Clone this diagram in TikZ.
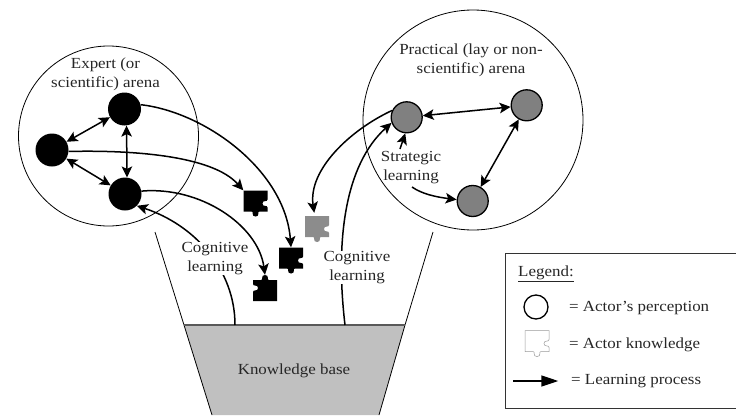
\documentclass[tikz,border=0pt]{standalone}
\usepackage{fontspec}
\setmainfont[FakeStretch=1.1]{Liberation Serif}
\usetikzlibrary{arrows.meta}
\definecolor{basegrey}{HTML}{C0C0C0}
\definecolor{actorgrey}{HTML}{808080}
\definecolor{pieceg}{HTML}{8C8C8C}
\tikzset{
  x=1pt,y=-1pt,
  arena/.style={circle,draw,line width=0.8pt,inner sep=0pt,minimum size=#1},
  expertnode/.style={circle,fill=black,inner sep=0pt,minimum size=33pt},
  laynode/.style={circle,draw=black,line width=1.3pt,fill=actorgrey,inner sep=0pt,minimum size=31pt},
  piecebox/.style={inner sep=0pt,minimum width=24pt,minimum height=26pt},
  lab/.style={font=\fontsize{15.4}{19}\selectfont,align=center,inner sep=0pt,text=black!85},
  labw/.style={lab,fill=white,inner sep=0pt},
  leglab/.style={font=\fontsize{15.4}{19}\selectfont,anchor=west,inner sep=0pt,text=black!85},
  flow/.style={line width=1.5pt,-{Stealth[length=11pt,width=10.5pt,inset=2.5pt]}},
  dflow/.style={line width=1.5pt,{Stealth[length=11pt,width=10.5pt,inset=2.5pt]}-{Stealth[length=11pt,width=10.5pt,inset=2.5pt]}},
  funnel/.style={line width=0.8pt},
  puzzle/.pic={
    \path[pic actions] (-12,-13)--(12,-13)--(12,-4)
      .. controls (12,-1) and (7,-4) .. (7,0)
      .. controls (7,4) and (12,1) .. (12,4)
      --(12,8)--(4,8)
      .. controls (1,8) and (5,13) .. (0,13)
      .. controls (-5,13) and (-1,8) .. (-4,8)
      --(-12,8)--cycle;
  }
}
\begin{document}
\begin{tikzpicture}
\useasboundingbox (0,0) rectangle (736,415);
% knowledge base
\fill[basegrey] (184,325)--(405,325)--(379,415)--(212,415)--cycle;
\draw[funnel] (155,232)--(184,325)--(212,415);
\draw[funnel] (433,232)--(405,325)--(379,415);
\draw[line width=1.2pt,black!65] (184,325)--(405,325);
\coordinate (baseL) at (235,325);
\coordinate (baseR) at (345,325);
% arenas
\node[arena=180pt] (expert) at (108.5,136) {};
\node[arena=220pt] (lay) at (473,120) {};
% actors
\node[expertnode] (e1) at (124.5,109) {};
\node[expertnode] (e2) at (52,150) {};
\node[expertnode] (e3) at (125,194) {};
\node[laynode] (g1) at (406.7,117.3) {};
\node[laynode] (g2) at (526.7,105.3) {};
\node[laynode] (g3) at (472.7,201) {};
% pieces
\node[piecebox] (p1) at (255.5,203.5) {};
\node[piecebox] (p2) at (291,260.5) {};
\node[piecebox] (p3) at (265,288) {};
\node[piecebox] (pg) at (317,229) {};
\pic[fill=black] at (p1) {puzzle};
\pic[fill=black] at (p2) {puzzle};
\pic[fill=black,rotate=180] at (p3) {puzzle};
\pic[fill=pieceg] at (pg) {puzzle};
% connectors
\draw[dflow] (e1)--(e2);
\draw[dflow] (e2)--(e3);
\draw[dflow] (e1.-83)--(e3.83);
\draw[dflow] (g1)--(g2);
\draw[dflow] (g2)--(g3);
\draw[flow] (e1.15) .. controls (205,112) and (285,170) .. (p2.north);
\draw[flow] (e2.-5) .. controls (130,150) and (212,155) .. (p1.north west);
\draw[flow] (e3.10) .. controls (200,186) and (258,225) .. (p3.north);
\draw[flow] (baseL) .. controls (235,270) and (195,225) .. (e3.-45);
\draw[flow] (baseR) .. controls (335,240) and (345,165) .. (g1.-160);
\draw[flow,shorten >=3pt] (g1.155) .. controls (350,130) and (308,170) .. (pg.100);
% labels
\node[lab] (texp) at (105.5,74.5) {Expert (or\\scientific) arena};
\node[lab] (tprac) at (471,60.5) {Practical (lay or non-\\scientific) arena};
\node[lab] (tstrat) at (411,167.5) {Strategic\\learning};
\node[labw] (tcogL) at (215,258.5) {Cognitive\\learning};
\node[labw] (tcogR) at (357,267.5) {Cognitive\\learning};
\node[lab] (tbase) at (294,371) {Knowledge base};
\coordinate (s1) at (400,149);
\coordinate (s2) at (412,187);
\draw[flow] (s1)--(g1.-95);
\draw[flow] (s2) .. controls (422,194) and (436,197) .. (g3.175);
% legend
\draw[line width=1pt,black!80] (736,253)--(505,253)--(505,408)--(736,408);
\node[leglab] (lt) at (518,274) {\underline{Legend:}};
\node[circle,draw,line width=1.3pt,inner sep=0pt,minimum size=24pt] (lc) at (536,307) {};
\node[leglab] (l1) at (569,308) {= Actor’s perception};
\node[piecebox] (lp) at (537,343.5) {};
\pic[draw=black!40,line width=0.5pt] at (lp) {puzzle};
\node[leglab] (l2) at (569,345) {= Actor knowledge};
\coordinate (la) at (513,381);
\node[inner sep=0pt] (lb) at (559,381) {};
\draw[line width=1.5pt,-{Stealth[length=17pt,width=11pt,inset=0pt]}] (la)--(lb);
\node[leglab] (l3) at (571,381) {= Learning process};
\end{tikzpicture}
\end{document}
